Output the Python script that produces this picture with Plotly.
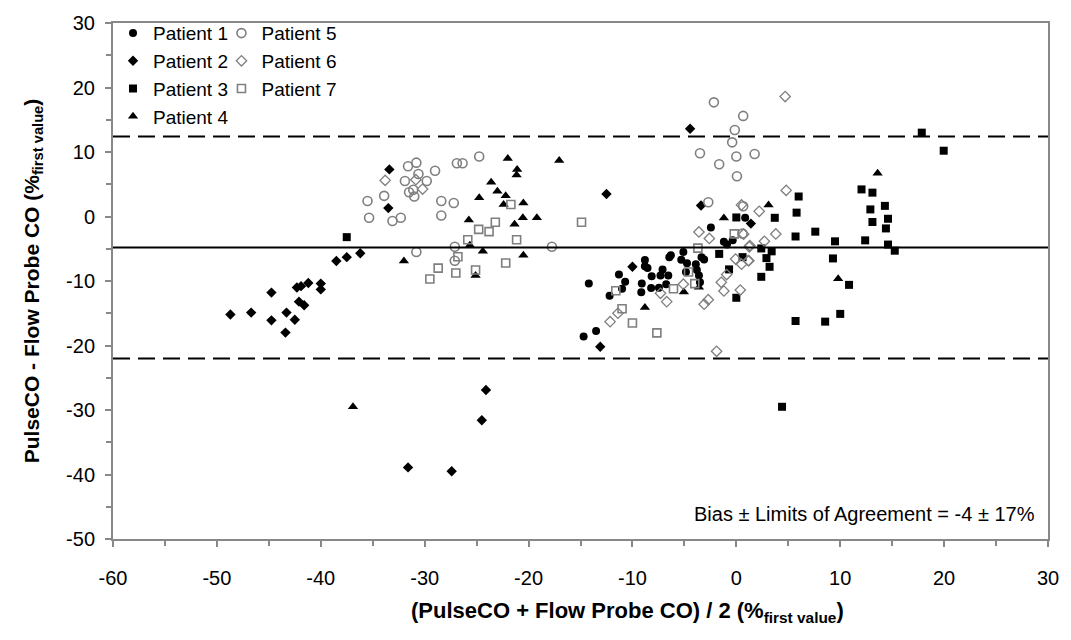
import plotly.graph_objects as go

# ---- data ----
p1_x = [-14.2, -11.3, -10.7, -11.0, -12.2, -8.8, -8.8, -8.55, -9.1, -9.15, -8.15, -8.2, -7.45, -7.1, -7.3,
        -6.75, -6.55, -6.3, -6.45, -5.1, -5.3, -4.75, -4.85, -3.9, -3.8, -3.35, -3.1, -3.5, -3.6, -14.7,
        -13.5, -2.45, -1.2, -0.9, -0.35, 0.85]
p1_y = [-10.4, -9.0, -10.1, -11.2, -12.3, -6.75, -7.7, -8.0, -10.4, -11.75, -9.25, -11.1, -11.05, -8.2, -9.15,
        -10.5, -9.15, -6.0, -6.3, -5.5, -6.7, -7.25, -8.6, -7.4, -8.3, -6.3, -6.65, -10.2, -9.15, -18.6,
        -17.75, -1.7, -3.9, -4.35, -3.7, -0.2]

p2_x = [-48.7, -46.7, -44.75, -44.75, -43.4, -43.3, -42.5, -42.3, -41.9, -42.1, -41.6, -41.2, -40.0, -40.0,
        -38.5, -37.5, -36.2, -33.4, -33.5, -31.6, -27.4, -24.1, -24.5, -12.5, -4.45, -3.4, 1.4, -13.1, -10.0]
p2_y = [-15.2, -14.9, -11.8, -16.1, -18.0, -14.9, -16.0, -11.0, -10.8, -13.2, -13.75, -10.3, -10.4, -11.3,
        -6.9, -6.3, -5.7, 7.3, 1.3, -38.9, -39.5, -26.9, -31.6, 3.5, 13.6, 1.7, -1.1, -20.2, -7.8]

p3_x = [-37.5, 17.85, 19.96, 12.05, 13.1, 6.0, 5.8, 12.9, 14.3, 14.6, 13.1, 14.4, 3.7, 7.6, 5.7, 9.5, 12.4,
        14.6, 15.25, 2.4, 3.4, 2.9, 0.6, 3.2, 9.3, 2.4, 10.85, 10.0, 5.7, 8.55, 0.0, -1.65, -0.7, 4.4, 0.0]
p3_y = [-3.2, 13.0, 10.2, 4.2, 3.7, 3.1, 0.6, 1.1, 1.65, -0.35, -0.85, -1.85, -0.2, -2.35, -3.1, -3.85, -3.7,
        -4.35, -5.3, -4.95, -5.4, -6.45, -6.3, -7.8, -6.5, -9.35, -10.6, -15.1, -16.2, -16.3, -12.6, -5.8,
        -8.2, -29.5, -0.15]

p4_x = [-32.0, -22.0, -21.1, -21.15, -17.05, -23.6, -23.0, -22.2, -24.75, -22.4, -20.5, -25.75, -20.55,
        -19.2, -21.35, -25.65, -24.4, -20.5, -25.1, -36.9, -8.8, -5.05, -3.6, -1.2, 13.6, 3.1, 9.8]
p4_y = [-6.9, 9.0, 7.3, 6.45, 8.7, 5.3, 3.9, 3.2, 2.9, 1.85, 2.1, -0.55, -0.2, -0.2, -1.2, -4.45, -5.4,
        -6.0, -9.15, -29.5, -14.1, -11.7, -10.95, -0.25, 6.7, 1.8, -9.65]

p5_x = [-35.5, -35.35, -33.9, -33.1, -32.3, -31.6, -30.8, -30.6, -31.9, -29.8, -29.0, -31.1, -31.5, -31.0,
        -28.4, -28.4, -27.2, -26.9, -26.35, -24.75, -27.1, -17.75, -27.1, -2.16, 0.66, -0.15, -0.4, -3.5,
        0.0, 1.76, -1.65, 0.06, -2.7, 0.6, 0.66, -30.8]
p5_y = [2.4, -0.2, 3.2, -0.7, -0.2, 7.8, 8.35, 6.6, 5.5, 5.5, 7.1, 4.15, 3.75, 3.1, 2.4, 0.15, 2.1, 8.25,
        8.25, 9.3, -4.7, -4.7, -6.85, 17.7, 15.6, 13.4, 11.5, 9.8, 9.3, 9.7, 8.1, 6.25, 2.2, -2.65, 1.6, -5.5]

p6_x = [-30.85, -30.2, -33.8, 0.5, 2.2, -3.6, -2.6, 0.7, 1.3, -0.07, 0.5, 1.2, -0.93, -1.45, -1.2, 0.38,
        -2.7, -3.1, -1.9, -7.3, -6.7, -12.15, -11.4, -5.1, 4.8, 3.8, 2.7, 1.25, 1.15, 4.7]
p6_y = [5.7, 4.25, 5.6, 1.8, 0.8, -2.4, -3.4, -2.75, -4.5, -6.6, -7.4, -6.85, -9.0, -10.2, -11.55, -11.4,
        -12.9, -13.6, -20.9, -11.9, -13.2, -16.3, -15.0, -10.5, 4.05, -2.7, -3.85, -4.7, -6.85, 18.6]

p7_x = [-21.7, -23.2, -24.8, -23.8, -25.85, -21.15, -14.9, -26.8, -28.7, -27.0, -29.5, -25.1, -22.2, -0.2,
        -4.0, -6.05, -4.6, -11.6, -11.0, -10.0, -7.65, -3.7]
p7_y = [1.85, -0.9, -2.0, -2.35, -3.6, -3.6, -0.9, -6.25, -8.0, -8.75, -9.7, -8.3, -7.2, -2.7, -10.4, -11.2,
        -8.6, -11.5, -14.3, -16.5, -18.05, -4.9]

bias = -4.8
upper_loa = 12.4
lower_loa = -22.0

x_ticks = [-60, -50, -40, -30, -20, -10, 0, 10, 20, 30]
y_ticks = [-50, -40, -30, -20, -10, 0, 10, 20, 30]

FONT = "Arial, Liberation Sans, sans-serif"
GREY = "#7f7f7f"
AX = "#888888"

fig = go.Figure()

series = [
    ("Patient 1", p1_x, p1_y, dict(symbol="circle", size=8, color="black"), "legend"),
    ("Patient 2", p2_x, p2_y, dict(symbol="diamond", size=8, color="black"), "legend"),
    ("Patient 3", p3_x, p3_y, dict(symbol="square", size=8, color="black"), "legend"),
    ("Patient 4", p4_x, p4_y, dict(symbol="triangle-up", size=9, color="black"), "legend"),
    ("Patient 5", p5_x, p5_y, dict(symbol="circle-open", size=9, color=GREY, line=dict(width=1.6, color=GREY)), "legend2"),
    ("Patient 6", p6_x, p6_y, dict(symbol="diamond-open", size=8, color=GREY, line=dict(width=1.3, color=GREY)), "legend2"),
    ("Patient 7", p7_x, p7_y, dict(symbol="square-open", size=8, color=GREY, line=dict(width=1.6, color=GREY)), "legend2"),
]
for name, xs, ys, mk, lg in series:
    fig.add_trace(go.Scatter(x=xs, y=ys, mode="markers", name=name, marker=mk, legend=lg))

fig.add_shape(type="line", xref="paper", x0=0, x1=1, yref="y", y0=bias, y1=bias,
              line=dict(color="black", width=2))
for yv in (upper_loa, lower_loa):
    fig.add_shape(type="line", xref="paper", x0=0, x1=1, yref="y", y0=yv, y1=yv,
                  line=dict(color="black", width=2, dash="17px,8px"))

fig.add_annotation(x=28.9, y=-46.1, xref="x", yref="y", xanchor="right", yanchor="middle",
                   text="Bias \u00b1 Limits of Agreement = -4 \u00b1 17%", showarrow=False,
                   font=dict(family=FONT, size=20, color="black"))

# x-axis title (placed as annotation to match its offset position)
fig.add_annotation(x=-10.5, y=-0.142, xref="x", yref="paper", xanchor="center", yanchor="middle",
                   text="<b>(PulseCO + Flow Probe CO) / 2 (%<sub>first value</sub>)</b>", showarrow=False,
                   font=dict(family=FONT, size=22, color="black"))

axis_common = dict(showline=True, linecolor=AX, linewidth=2, mirror=True, ticks="outside",
                   ticklen=6, tickwidth=1.5, tickcolor=AX, showgrid=False, zeroline=False,
                   tickfont=dict(family=FONT, size=20, color="black"),
                   minor=dict(ticks="outside", ticklen=5, tickwidth=1.5, tickcolor=AX, dtick=5, showgrid=False))

fig.update_xaxes(range=[-60, 30], tickvals=x_ticks, ticktext=[str(v) for v in x_ticks],
                 ticklabelstandoff=14, **axis_common)
fig.update_yaxes(range=[-50, 30], tickvals=y_ticks, ticktext=[str(v) for v in y_ticks],
                 ticklabelstandoff=6,
                 title=dict(text="<b>PulseCO - Flow Probe CO (%<sub>first value</sub>)</b>",
                            font=dict(family=FONT, size=21, color="black"), standoff=21),
                 **axis_common)

legend_common = dict(bgcolor="rgba(0,0,0,0)", borderwidth=0, font=dict(family=FONT, size=19, color="black"),
                     yanchor="top", y=1.017, xanchor="left", itemwidth=30, tracegroupgap=0)
fig.update_layout(
    width=1071, height=640,
    margin=dict(l=113, r=23, t=18, b=101),
    plot_bgcolor="white", paper_bgcolor="white",
    font=dict(family=FONT, size=20, color="black"),
    legend=dict(x=0.0, **legend_common),
    legend2=dict(x=0.116, **legend_common),
    showlegend=True,
)

fig.write_html("out.html", config={"displayModeBar": False},
               post_script="document.body.style.margin='0';")
